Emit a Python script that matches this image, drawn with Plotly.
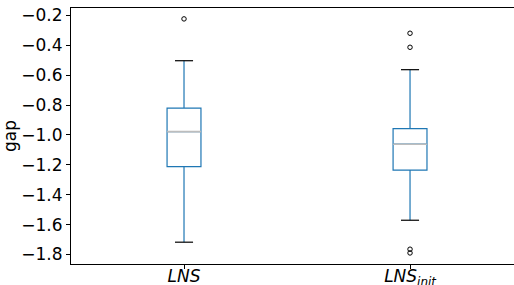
import plotly.graph_objects as go

# Data
categories = ["LNS", "LNS_init"]
tick_labels = ["<i>LNS</i>", "<i>LNS<sub>init</sub></i>"]
positions = [1, 2]
q1 = [-1.212, -1.236]
median = [-0.978, -1.062]
q3 = [-0.821, -0.958]
lower_whisker = [-1.718, -1.571]
upper_whisker = [-0.503, -0.563]
outliers = [[-0.223], [-0.319, -0.413, -1.765, -1.790]]
y_ticks = [-0.2, -0.4, -0.6, -0.8, -1.0, -1.2, -1.4, -1.6, -1.8]
y_tick_labels = ["\u22120.2", "\u22120.4", "\u22120.6", "\u22120.8", "\u22121.0",
                 "\u22121.2", "\u22121.4", "\u22121.6", "\u22121.8"]

BOX_W = 0.15
CAP_W = 0.08
BLUE = "#1f77b4"
FONT = "DejaVu Sans"

fig = go.Figure()
fig.add_trace(go.Box(
    x=positions, q1=q1, median=median, q3=q3,
    lowerfence=lower_whisker, upperfence=upper_whisker,
    width=BOX_W, whiskerwidth=0,
    line=dict(color=BLUE, width=1.2),
    fillcolor="rgba(0,0,0,0)", boxpoints=False,
    hoverinfo="skip", showlegend=False,
))

# median lines (gray) and whisker caps (black)
for p, m, lo, hi in zip(positions, median, lower_whisker, upper_whisker):
    fig.add_trace(go.Scatter(x=[p - BOX_W / 2, p + BOX_W / 2], y=[m, m], mode="lines",
                             line=dict(color="#bdbdbd", width=1.6), showlegend=False, hoverinfo="skip"))
    for v in (lo, hi):
        fig.add_trace(go.Scatter(x=[p - CAP_W / 2, p + CAP_W / 2], y=[v, v], mode="lines",
                                 line=dict(color="black", width=1.2), showlegend=False, hoverinfo="skip"))

# outliers
ox, oy = [], []
for p, vals in zip(positions, outliers):
    for v in vals:
        ox.append(p)
        oy.append(v)
fig.add_trace(go.Scatter(x=ox, y=oy, mode="markers",
                         marker=dict(symbol="circle-open", size=4.5, color="black", line=dict(width=1)),
                         showlegend=False, hoverinfo="skip"))

fig.update_layout(
    width=514, height=285,
    margin=dict(l=71, r=0, t=8, b=21, autoexpand=False),
    paper_bgcolor="white", plot_bgcolor="white",
    font=dict(family=FONT, size=16, color="black"),
    xaxis=dict(range=[0.5, 2.46], tickvals=positions, ticktext=tick_labels,
               showgrid=False, zeroline=False, showline=True, mirror=True,
               linecolor="black", linewidth=1, ticks="outside", ticklen=4,
               tickcolor="black", tickfont=dict(size=17), automargin=False,
               ticklabelstandoff=-7),
    yaxis=dict(range=[-1.864, -0.150], tickvals=y_ticks, ticktext=y_tick_labels,
               showgrid=False, zeroline=False, showline=True,
               linecolor="black", linewidth=1, ticks="outside", ticklen=4,
               tickcolor="black", tickfont=dict(size=17), automargin=False,
               title=dict(text="gap", font=dict(size=17), standoff=6)),
)

fig.write_html("out.html", config={"displayModeBar": False},
               post_script="document.body.style.margin='0';document.body.style.overflow='hidden';")
